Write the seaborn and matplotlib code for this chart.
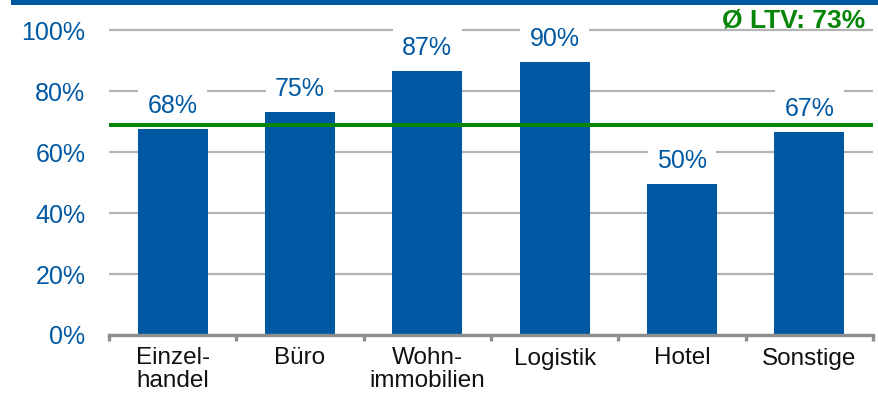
import matplotlib
matplotlib.use("Agg")
import matplotlib.pyplot as plt
import seaborn as sns
import pandas as pd
from matplotlib.patches import Rectangle

# === DATEN ===
kategorien = ["Einzel-\nhandel", "Büro", "Wohn-\nimmobilien", "Logistik", "Hotel", "Sonstige"]
ltv_werte = [67.5, 73, 86.5, 89.5, 49.5, 66.5]
ltv_labels = ["68%", "75%", "87%", "90%", "50%", "67%"]
ltv_schnitt = 69
ltv_schnitt_text = "Ø LTV: 73%"
y_ticks = [0, 20, 40, 60, 80, 100]

# === FARBEN ===
BLAU = "#0058A2"
GRUEN = "#078507"
GRAU_GRID = "#B4B4B4"
GRAU_ACHSE = "#8E8E8E"

sns.set_theme(style="white")
plt.rcParams["font.family"] = ["Liberation Sans", "DejaVu Sans"]

W, H = 879, 404
fig = plt.figure(figsize=(W / 100, H / 100), dpi=100)
# Achse: links 109px, rechts 873px, 0% bei y=335, 100% bei y=30
top_px = 335 - 101 * 3.05
ax = fig.add_axes([109 / W, (H - 335) / H, (873 - 109) / W, (335 - top_px) / H])

df = pd.DataFrame({"kategorie": kategorien, "ltv": ltv_werte})
sns.barplot(data=df, x="kategorie", y="ltv", color=BLAU, width=0.55,
            saturation=1, ax=ax, zorder=2, linewidth=0)

ax.set_xlim(-0.5, len(kategorien) - 0.5)
ax.set_ylim(0, 101)
ax.set_xlabel("")
ax.set_ylabel("")

# Gitterlinien
ax.set_axisbelow(True)
ax.set_yticks(y_ticks)
ax.set_yticklabels([f"{t}%" for t in y_ticks])
ax.yaxis.grid(True, color=GRAU_GRID, linewidth=1.6)
ax.xaxis.grid(False)

for s in ["left", "top", "right"]:
    ax.spines[s].set_visible(False)
ax.spines["bottom"].set_color(GRAU_ACHSE)
ax.spines["bottom"].set_linewidth(2.4)

ax.set_xticks([i - 0.5 for i in range(len(kategorien) + 1)], minor=True)
ax.tick_params(axis="x", which="minor", length=4.5, width=2.4,
               color=GRAU_ACHSE, direction="out", bottom=True)
ax.tick_params(axis="x", which="major", length=0, pad=9, labelsize=17.5,
               labelcolor="#111111")
ax.tick_params(axis="y", length=0, pad=17, labelsize=18, labelcolor=BLAU)
for lbl in ax.get_xticklabels():
    lbl.set_linespacing(1.05)

# Datenbeschriftungen mit weissem Hintergrund (unterbricht Gitterlinien)
for i, (v, l) in enumerate(zip(ltv_werte, ltv_labels)):
    ax.annotate(l, (i, v), xytext=(0, 8), textcoords="offset points",
                ha="center", va="bottom", fontsize=18, color=BLAU, zorder=1,
                bbox=dict(boxstyle="square,pad=0.37", fc="white", ec="none"))

# Durchschnittslinie
ax.axhline(ltv_schnitt, color=GRUEN, linewidth=2.9, zorder=4)

# Balken oben und Durchschnittstext
fig.add_artist(Rectangle((11 / W, 1 - 5 / H), 1, 5 / H,
                         transform=fig.transFigure, color=BLAU, lw=0))
fig.text(865 / W, 1 - 27 / H, ltv_schnitt_text, ha="right", va="baseline",
         fontsize=19, fontweight="bold", color=GRUEN)

fig.savefig("out.png", dpi=100)
